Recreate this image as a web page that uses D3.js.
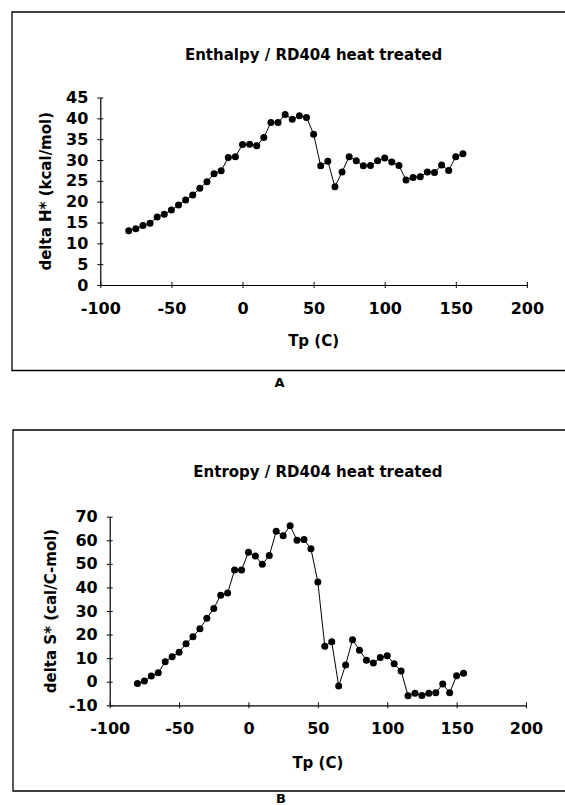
<!DOCTYPE html>
<html>
<head>
<meta charset="utf-8">
<script src="https://cdn.jsdelivr.net/npm/d3@7/dist/d3.min.js"></script>
<style>
  html, body { margin: 0; padding: 0; background: #fff; }
  svg { display: block; }
  text { font-family: "DejaVu Sans", sans-serif; font-weight: bold; fill: #000; }
</style>
</head>
<body>
<svg id="fig" width="565" height="805"></svg>
<script>
// Peak temperature Tp (C) for each measurement
const tp = [-80, -75, -70, -65, -60, -55, -50, -45, -40, -35, -30, -25, -20, -15, -10, -5,
            0, 5, 10, 15, 20, 25, 30, 35, 40, 45, 50, 55, 60, 65, 70, 75,
            80, 85, 90, 95, 100, 105, 110, 115, 120, 125, 130, 135, 140, 145, 150, 155];

// Activation enthalpy, kcal/mol
const deltaH = [13.0, 13.5, 14.3, 14.8, 16.3, 17.0, 18.0, 19.2, 20.4, 21.6, 23.2, 24.8, 26.7, 27.4, 30.6, 30.8,
                33.7, 33.8, 33.4, 35.4, 39.0, 39.0, 40.9, 39.8, 40.6, 40.2, 36.2, 28.6, 29.7, 23.6, 27.1, 30.8,
                29.8, 28.6, 28.7, 29.8, 30.5, 29.5, 28.7, 25.2, 25.8, 26.0, 27.1, 27.0, 28.8, 27.5, 30.8, 31.5];

// Activation entropy, cal/C-mol
const deltaS = [-0.8, 0.3, 2.4, 3.8, 8.5, 10.6, 12.5, 16.1, 19.1, 22.5, 26.9, 31.1, 36.7, 37.6, 47.4, 47.4,
                54.9, 53.3, 49.8, 53.5, 63.8, 61.9, 66.2, 60.0, 60.3, 56.4, 42.3, 15.1, 17.0, -1.8, 7.1, 17.8,
                13.4, 9.1, 7.9, 10.3, 11.0, 7.6, 4.5, -5.9, -4.9, -5.8, -4.9, -4.7, -1.0, -4.7, 2.5, 3.6];

// Tick labels
const xTicks = [-100, -50, 0, 50, 100, 150, 200];
const hTicks = [0, 5, 10, 15, 20, 25, 30, 35, 40, 45];
const sTicks = [-10, 0, 10, 20, 30, 40, 50, 60, 70];

const svg = d3.select("#fig");

function panel(opt) {
  const g = svg.append("g");

  // outer frame (open on the right, runs off the page)
  g.append("path")
    .attr("d", `M575,${opt.frameTop}H${opt.frameLeft}V${opt.frameBottom}H575`)
    .attr("fill", "none").attr("stroke", "#000").attr("stroke-width", 1.3);

  const x = d3.scaleLinear().domain([-100, 200]).range(opt.xRange);
  const y = d3.scaleLinear().domain(opt.yDomain).range(opt.yRange);

  // title
  g.append("text")
    .attr("x", (opt.xRange[0] + opt.xRange[1]) / 2)
    .attr("y", opt.titleY)
    .attr("text-anchor", "middle")
    .style("font-size", "15px")
    .text(opt.title);

  // x axis
  const xa = g.append("g")
    .attr("transform", `translate(0,${opt.yRange[0]})`)
    .call(d3.axisBottom(x).tickValues(xTicks).tickSizeInner(3).tickSizeOuter(0)
      .tickPadding(14.5).tickFormat(d3.format("d")));
  // y axis
  const ya = g.append("g")
    .attr("transform", `translate(${opt.xRange[0]},0)`)
    .call(d3.axisLeft(y).tickValues(opt.yTicks).tickSizeInner(3).tickSizeOuter(0)
      .tickPadding(9).tickFormat(d3.format("d")));

  [xa, ya].forEach(a => {
    a.select(".domain").attr("stroke", "#000").attr("stroke-width", 1.2);
    a.selectAll("text").style("font-size", "16px").style("font-family", "'DejaVu Sans', sans-serif")
      .style("font-weight", "bold").attr("fill", "#000");
  });
  // ticks cross the axis line
  xa.selectAll(".tick line").attr("y1", -3).attr("y2", 3).attr("stroke", "#000");
  ya.selectAll(".tick line").attr("x1", -3).attr("x2", 3).attr("stroke", "#000");
  // plain hyphen for negative tick values
  xa.selectAll(".tick text").text(d => d < 0 ? "-" + Math.abs(d) : d);
  ya.selectAll(".tick text").text(d => d < 0 ? "-" + Math.abs(d) : d);

  // axis titles
  g.append("text")
    .attr("x", (opt.xRange[0] + opt.xRange[1]) / 2)
    .attr("y", opt.xLabelY)
    .attr("text-anchor", "middle")
    .style("font-size", "15px")
    .text("Tp (C)");

  g.append("text")
    .attr("transform", `translate(${opt.yLabelX},${(opt.yRange[0] + opt.yRange[1]) / 2}) rotate(-90)`)
    .attr("text-anchor", "middle")
    .attr("dy", "0.35em")
    .style("font-size", "15px")
    .text(opt.yLabel);

  // series
  const pts = tp.map((t, i) => [t, opt.values[i]]);
  g.append("path")
    .datum(pts)
    .attr("fill", "none").attr("stroke", "#000").attr("stroke-width", 1)
    .attr("d", d3.line().x(d => x(d[0])).y(d => y(d[1])));
  g.selectAll("circle.pt")
    .data(pts).join("circle")
    .attr("class", "pt")
    .attr("cx", d => x(d[0])).attr("cy", d => y(d[1]))
    .attr("r", 3.5).attr("fill", "#000");

  // panel letter
  g.append("text")
    .attr("x", opt.letterX).attr("y", opt.letterY)
    .attr("text-anchor", "middle")
    .style("font-size", "13px")
    .text(opt.letter);
}

panel({
  title: "Enthalpy / RD404 heat treated",
  yLabel: "delta H* (kcal/mol)",
  values: deltaH,
  yDomain: [0, 45], yTicks: hTicks,
  xRange: [100.3, 526.9], yRange: [285, 97.5],
  frameLeft: 12, frameTop: 12, frameBottom: 370.5,
  titleY: 59.5, xLabelY: 345.5, yLabelX: 46,
  letter: "A", letterX: 279.5, letterY: 386.5
});

panel({
  title: "Entropy / RD404 heat treated",
  yLabel: "delta S* (cal/C-mol)",
  values: deltaS,
  yDomain: [-10, 70], yTicks: sTicks,
  xRange: [109.7, 526], yRange: [705.3, 516.7],
  frameLeft: 13, frameTop: 430, frameBottom: 791,
  titleY: 476.5, xLabelY: 767.5, yLabelX: 51,
  letter: "B", letterX: 281, letterY: 803
});
</script>
</body>
</html>
